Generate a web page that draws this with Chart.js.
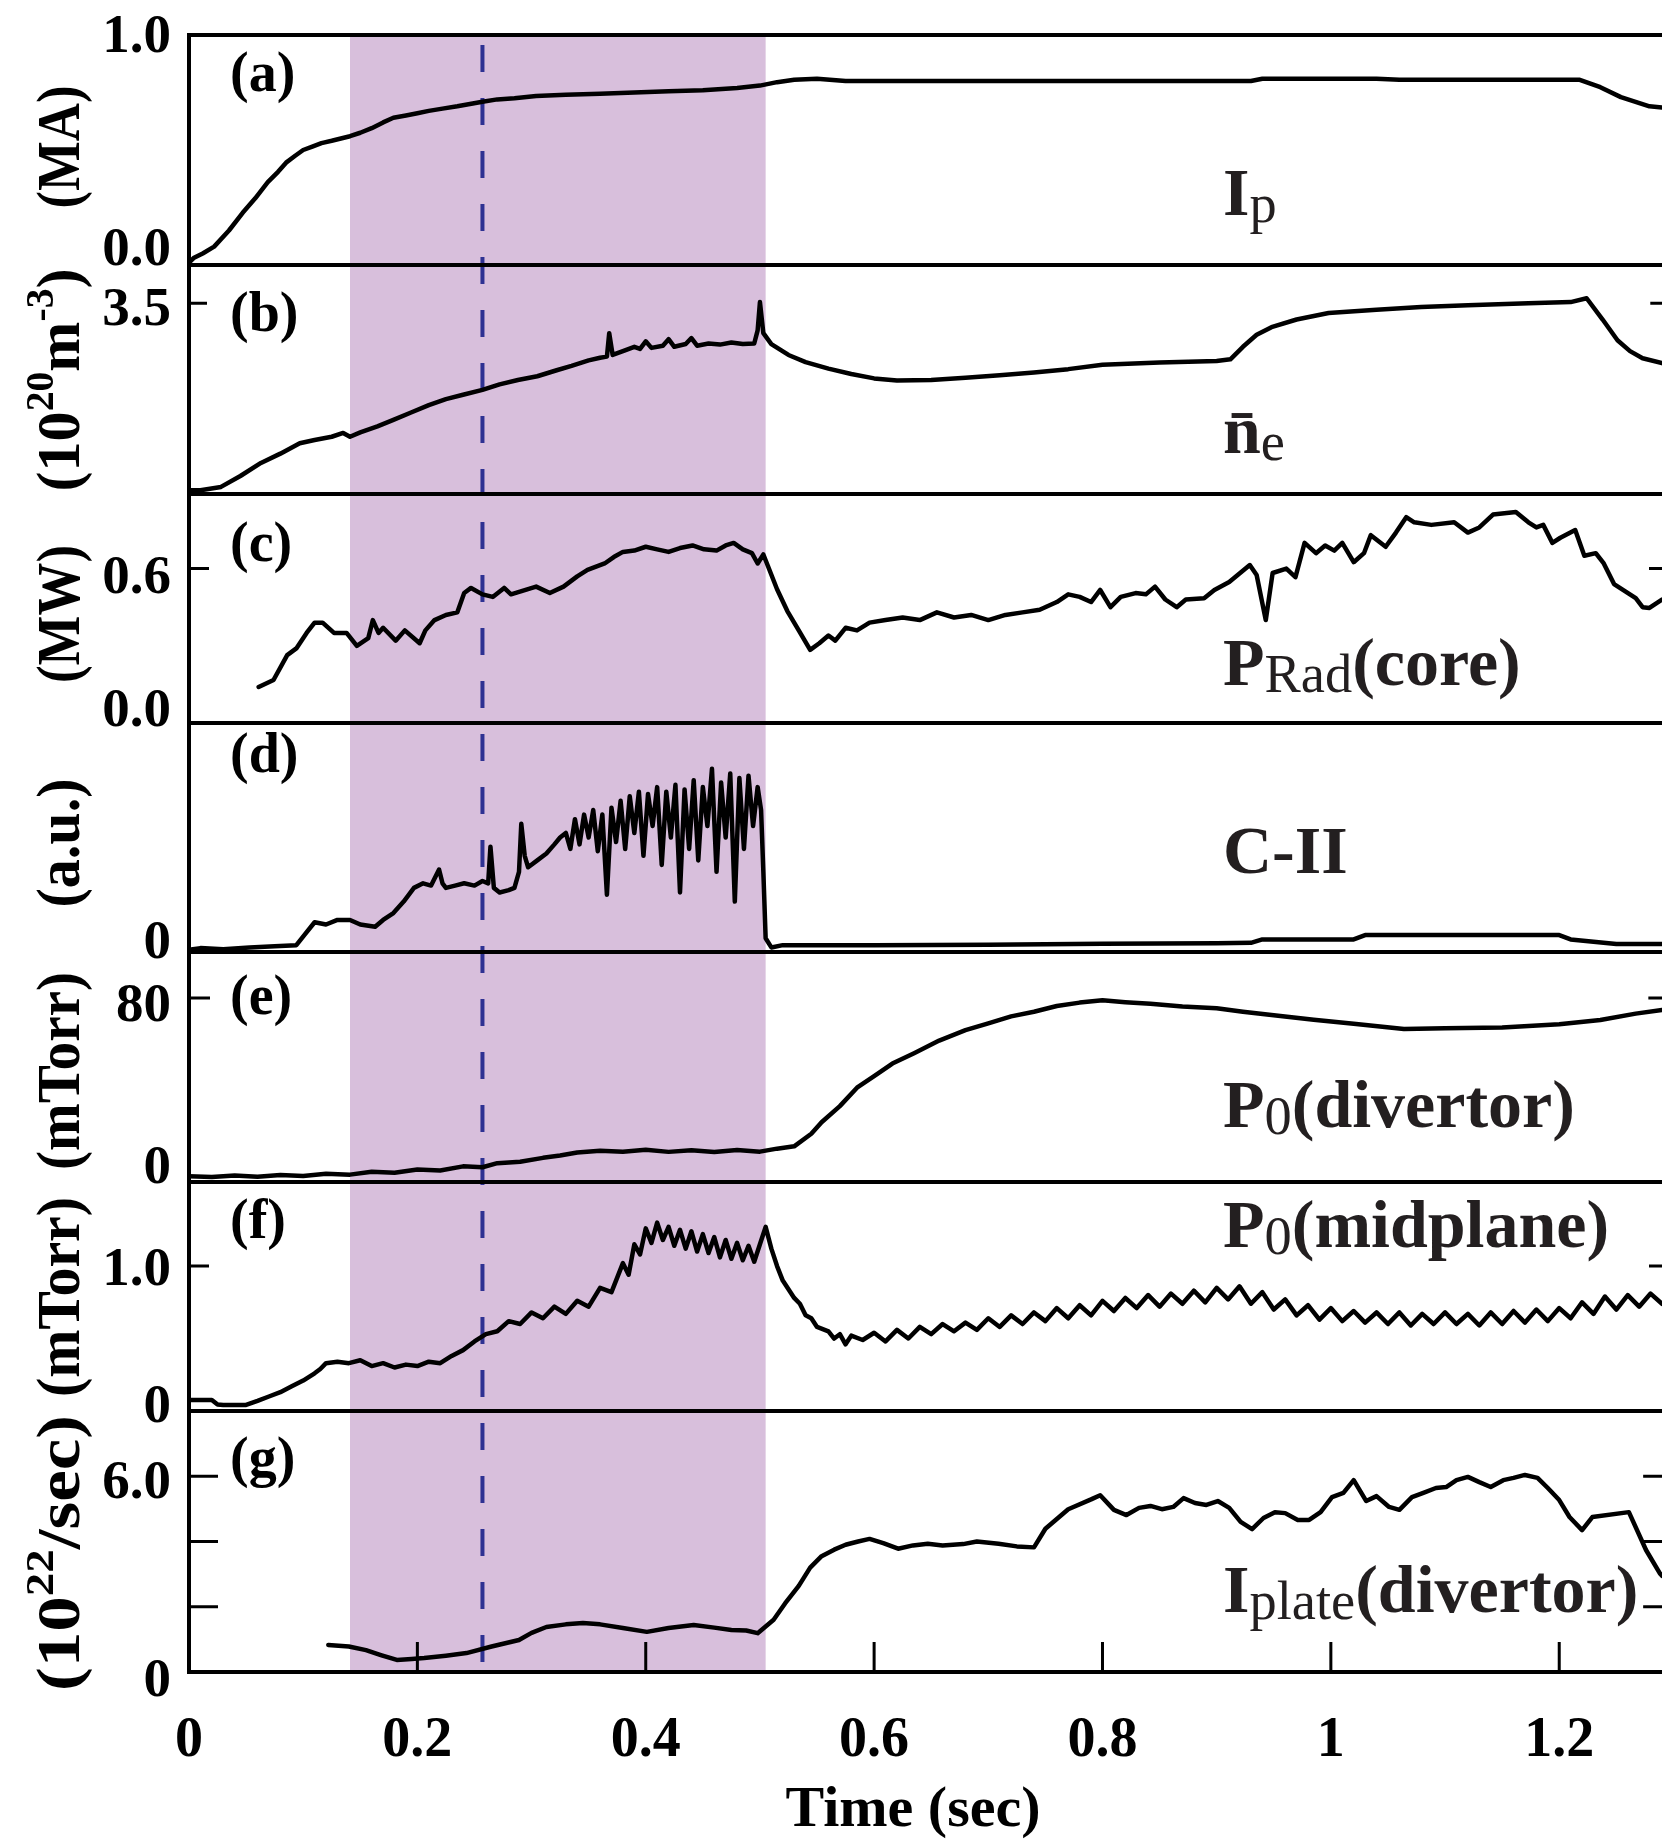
<!DOCTYPE html>
<html>
<head>
<meta charset="utf-8">
<script src="https://cdn.jsdelivr.net/npm/chart.js@4.4.1/dist/chart.umd.min.js"></script>
<style>
html, body { margin: 0; padding: 0; background: #fff; overflow: hidden; }
canvas { display: block; }
</style>
</head>
<body>
<canvas id="chart" width="1662" height="1842"></canvas>
<script>
// time axis
var xTicks = [0, 0.2, 0.4, 0.6, 0.8, 1, 1.2];
var xTickLabels = ["0", "0.2", "0.4", "0.6", "0.8", "1", "1.2"];
var xTitle = 'Time (sec)';
var shadeStart = 0.141, shadeEnd = 0.505, markTime = 0.257;

// (a) plasma current, MA
var ipTime = [0,0.004,0.012,0.022,0.035,0.047,0.058,0.069,0.078,0.085,
  0.093,0.1,0.108,0.116,0.125,0.133,0.141,0.15,0.16,0.17,
  0.179,0.19,0.2,0.21,0.222,0.235,0.246,0.257,0.27,0.285,
  0.304,0.33,0.36,0.39,0.42,0.45,0.48,0.5,0.515,0.53,
  0.55,0.575,0.6,0.7,0.8,0.93,0.94,1.04,1.06,1.218,
  1.236,1.254,1.279,1.29];
var ipValues = [0.01,0.03,0.05,0.08,0.15,0.227,0.29,0.36,0.405,0.445,
  0.475,0.5,0.515,0.53,0.54,0.55,0.56,0.575,0.595,0.62,
  0.64,0.65,0.66,0.67,0.68,0.69,0.70,0.71,0.72,0.725,
  0.735,0.74,0.745,0.75,0.755,0.76,0.77,0.78,0.795,0.805,
  0.81,0.80,0.80,0.80,0.80,0.80,0.81,0.81,0.805,0.805,
  0.773,0.73,0.69,0.685];
var ipTicks = [0, 1.0], ipTickLabels = ["0.0", "1.0"], ipMarks = [];

// (b) line averaged density, 10^20 m^-3
var neTime = [0,0.01,0.028,0.045,0.063,0.08,0.097,0.11,0.125,0.135,
  0.141,0.15,0.165,0.179,0.195,0.21,0.225,0.24,0.257,0.272,
  0.288,0.305,0.322,0.335,0.35,0.36,0.366,0.368,0.371,0.38,
  0.39,0.395,0.4,0.405,0.415,0.42,0.425,0.435,0.44,0.445,
  0.455,0.465,0.475,0.485,0.495,0.498,0.5,0.503,0.51,0.525,
  0.54,0.56,0.58,0.6,0.62,0.65,0.68,0.71,0.74,0.77,
  0.8,0.85,0.9,0.912,0.923,0.935,0.948,0.97,0.998,1.04,
  1.079,1.12,1.173,1.21,1.224,1.238,1.251,1.262,1.273,1.29];
var neValues = [0.07,0.07,0.13,0.33,0.57,0.74,0.93,0.99,1.05,1.12,
  1.05,1.13,1.24,1.36,1.5,1.63,1.74,1.82,1.91,2.01,
  2.09,2.16,2.27,2.35,2.45,2.5,2.52,2.95,2.55,2.62,
  2.7,2.66,2.8,2.68,2.72,2.84,2.7,2.75,2.86,2.72,
  2.76,2.74,2.78,2.75,2.76,3.0,3.52,2.95,2.75,2.55,
  2.42,2.3,2.2,2.12,2.08,2.09,2.13,2.18,2.23,2.29,
  2.37,2.41,2.44,2.47,2.7,2.92,3.06,3.2,3.32,3.38,
  3.43,3.46,3.5,3.52,3.59,3.2,2.82,2.62,2.49,2.4];
var neTicks = [3.5], neTickLabels = ["3.5"], neMarks = [3.5];

// (c) core radiated power, MW
var pradTime = [0.061,0.074,0.086,0.094,0.103,0.110,0.117,0.127,0.138,0.147,
  0.157,0.161,0.166,0.170,0.181,0.189,0.202,0.207,0.215,0.225,
  0.235,0.241,0.247,0.257,0.266,0.276,0.282,0.304,0.316,0.328,
  0.340,0.349,0.364,0.372,0.380,0.390,0.400,0.410,0.420,0.430,
  0.441,0.451,0.462,0.470,0.477,0.485,0.493,0.498,0.503,0.507,
  0.515,0.524,0.534,0.544,0.552,0.560,0.566,0.575,0.585,0.596,
  0.610,0.625,0.640,0.655,0.670,0.685,0.700,0.715,0.730,0.745,
  0.760,0.770,0.780,0.790,0.798,0.807,0.816,0.829,0.838,0.846,
  0.855,0.865,0.873,0.889,0.898,0.911,0.929,0.935,0.943,0.949,
  0.961,0.969,0.977,0.987,0.995,1.003,1.010,1.020,1.029,1.035,
  1.048,1.057,1.066,1.073,1.088,1.108,1.120,1.130,1.142,1.162,
  1.173,1.180,1.186,1.194,1.201,1.214,1.222,1.232,1.239,1.248,
  1.267,1.273,1.279,1.29];
var pradValues = [0.14,0.167,0.264,0.29,0.35,0.39,0.39,0.35,0.35,0.30,
  0.33,0.40,0.35,0.37,0.32,0.36,0.31,0.36,0.40,0.42,
  0.43,0.505,0.525,0.50,0.49,0.525,0.50,0.53,0.505,0.53,
  0.57,0.595,0.62,0.645,0.665,0.67,0.685,0.675,0.665,0.68,
  0.69,0.675,0.67,0.69,0.70,0.675,0.66,0.62,0.655,0.61,
  0.52,0.435,0.36,0.284,0.31,0.34,0.32,0.37,0.36,0.39,
  0.40,0.41,0.40,0.43,0.41,0.42,0.40,0.42,0.43,0.44,
  0.47,0.50,0.49,0.47,0.517,0.45,0.49,0.505,0.50,0.53,
  0.48,0.45,0.48,0.485,0.517,0.548,0.614,0.575,0.40,0.583,
  0.60,0.567,0.70,0.66,0.69,0.67,0.70,0.625,0.66,0.73,
  0.685,0.74,0.80,0.78,0.77,0.78,0.74,0.76,0.81,0.82,
  0.78,0.76,0.77,0.70,0.72,0.75,0.65,0.66,0.62,0.54,
  0.485,0.45,0.447,0.48];
var pradTicks = [0, 0.6], pradTickLabels = ["0.0", "0.6"], pradMarks = [0.6];

// (d) C-II emission, a.u.
var ciiTime = [0,0.01,0.03,0.053,0.075,0.094,0.102,0.11,0.12,0.13,
  0.141,0.15,0.163,0.17,0.179,0.188,0.197,0.205,0.212,0.219,
  0.222,0.225,0.233,0.241,0.25,0.257,0.262,0.264,0.267,0.272,
  0.28,0.285,0.289,0.291,0.294,0.297,0.305,0.313,0.32,0.325,
  0.33,0.334,0.338,0.342,0.346,0.35,0.354,0.358,0.362,0.366,
  0.37,0.374,0.378,0.382,0.386,0.39,0.394,0.398,0.402,0.406,
  0.41,0.414,0.418,0.422,0.426,0.43,0.434,0.438,0.442,0.446,
  0.45,0.454,0.458,0.462,0.466,0.47,0.474,0.478,0.482,0.486,
  0.49,0.494,0.498,0.501,0.503,0.505,0.51,0.52,0.6,0.7,
  0.8,0.9,0.93,0.94,1.02,1.03,1.2,1.21,1.25,1.29];
var ciiValues = [0.01,0.017,0.012,0.02,0.025,0.03,0.08,0.13,0.12,0.14,
  0.14,0.12,0.11,0.14,0.17,0.22,0.28,0.3,0.29,0.36,
  0.3,0.28,0.29,0.3,0.29,0.31,0.3,0.46,0.28,0.26,
  0.27,0.28,0.35,0.56,0.42,0.37,0.4,0.43,0.47,0.5,
  0.52,0.45,0.58,0.47,0.6,0.5,0.62,0.44,0.6,0.25,
  0.63,0.48,0.66,0.45,0.68,0.52,0.7,0.42,0.69,0.55,
  0.72,0.38,0.7,0.5,0.73,0.26,0.71,0.45,0.75,0.4,
  0.72,0.55,0.8,0.35,0.74,0.5,0.78,0.22,0.76,0.45,
  0.77,0.55,0.72,0.62,0.35,0.06,0.02,0.03,0.03,0.032,
  0.036,0.038,0.04,0.055,0.055,0.074,0.074,0.055,0.035,0.035];
var ciiTicks = [0], ciiTickLabels = ["0"], ciiMarks = [];

// (e) divertor neutral pressure, mTorr
var pdivTime = [0,0.02,0.04,0.06,0.08,0.1,0.12,0.141,0.16,0.18,
  0.2,0.22,0.24,0.257,0.27,0.29,0.31,0.325,0.34,0.36,
  0.38,0.4,0.42,0.44,0.46,0.48,0.5,0.515,0.53,0.545,
  0.554,0.57,0.585,0.6,0.616,0.635,0.657,0.68,0.7,0.72,
  0.74,0.76,0.78,0.8,0.82,0.842,0.87,0.9,0.923,0.95,
  0.985,1.02,1.064,1.1,1.15,1.2,1.236,1.267,1.29];
var pdivValues = [2.5,2.2,2.8,2.3,3,2.6,3.6,3.2,4.5,4,
  5.4,5,6.8,6.4,8.2,8.8,10.5,11.5,12.8,13.6,
  13.2,14,13.1,13.8,13,13.9,13.2,14.5,15.5,21,
  26,33,41,46,51.5,56,61.5,66,69,72,
  74,76.5,78,79,78.2,77.5,76.3,75.5,74,72.5,
  70.5,68.8,66.5,66.8,67.2,68.6,70.4,73.2,74.8];
var pdivTicks = [0, 80], pdivTickLabels = ["0", "80"], pdivMarks = [80];

// (f) midplane neutral pressure, mTorr
var pmidTime = [0,0.01,0.02,0.025,0.03,0.04,0.05,0.06,0.07,0.08,
  0.09,0.1,0.11,0.115,0.12,0.13,0.14,0.15,0.16,0.17,
  0.18,0.19,0.2,0.21,0.22,0.23,0.24,0.25,0.26,0.27,
  0.28,0.29,0.3,0.31,0.32,0.33,0.34,0.35,0.36,0.37,
  0.38,0.385,0.39,0.395,0.4,0.405,0.41,0.415,0.42,0.425,
  0.43,0.435,0.44,0.445,0.45,0.455,0.46,0.465,0.47,0.475,
  0.48,0.485,0.49,0.495,0.5,0.505,0.51,0.515,0.52,0.525,
  0.53,0.535,0.54,0.545,0.55,0.56,0.565,0.57,0.575,0.58,
  0.59,0.6,0.61,0.62,0.63,0.64,0.65,0.66,0.67,0.68,
  0.69,0.7,0.71,0.72,0.73,0.74,0.75,0.76,0.77,0.78,
  0.79,0.8,0.81,0.82,0.83,0.84,0.85,0.86,0.87,0.88,
  0.89,0.9,0.91,0.92,0.93,0.94,0.95,0.96,0.97,0.98,
  0.99,1,1.01,1.02,1.03,1.04,1.05,1.06,1.07,1.08,
  1.09,1.1,1.11,1.12,1.13,1.14,1.15,1.16,1.17,1.18,
  1.19,1.2,1.21,1.22,1.23,1.24,1.25,1.26,1.27,1.28,
  1.29];
var pmidValues = [0.076,0.076,0.076,0.045,0.041,0.041,0.042,0.07,0.1,0.13,
  0.17,0.21,0.26,0.29,0.33,0.34,0.33,0.35,0.31,0.33,
  0.3,0.32,0.31,0.34,0.33,0.38,0.42,0.48,0.53,0.55,
  0.62,0.6,0.68,0.64,0.72,0.67,0.76,0.72,0.85,0.82,
  1.02,0.94,1.15,1.08,1.26,1.16,1.3,1.18,1.27,1.14,
  1.25,1.12,1.24,1.1,1.22,1.09,1.2,1.06,1.18,1.05,
  1.16,1.04,1.14,1.03,1.15,1.27,1.12,1,0.9,0.84,
  0.78,0.74,0.66,0.64,0.58,0.55,0.5,0.53,0.46,0.52,
  0.49,0.54,0.48,0.56,0.5,0.58,0.53,0.6,0.55,0.61,
  0.56,0.64,0.58,0.66,0.6,0.68,0.62,0.71,0.64,0.73,
  0.66,0.76,0.69,0.78,0.71,0.8,0.72,0.81,0.74,0.83,
  0.75,0.85,0.77,0.86,0.74,0.82,0.7,0.77,0.66,0.73,
  0.63,0.71,0.62,0.69,0.61,0.68,0.6,0.68,0.59,0.67,
  0.6,0.68,0.6,0.67,0.59,0.68,0.6,0.69,0.61,0.7,
  0.62,0.71,0.64,0.75,0.67,0.79,0.7,0.8,0.72,0.81,
  0.74];
var pmidTicks = [0, 1.0], pmidTickLabels = ["0", "1.0"], pmidMarks = [1.0];

// (g) divertor plate ion flux, 10^22/sec
var iplateTime = [0.122,0.14,0.155,0.168,0.182,0.195,0.206,0.225,0.243,0.265,
  0.289,0.3,0.313,0.33,0.345,0.36,0.38,0.401,0.42,0.442,
  0.46,0.475,0.488,0.498,0.512,0.522,0.534,0.544,0.554,0.565,
  0.575,0.586,0.596,0.608,0.621,0.634,0.647,0.66,0.678,0.69,
  0.709,0.725,0.74,0.75,0.77,0.79,0.798,0.81,0.821,0.832,
  0.842,0.852,0.862,0.871,0.881,0.891,0.901,0.911,0.921,0.931,
  0.941,0.951,0.96,0.971,0.981,0.991,1.001,1.011,1.02,1.031,
  1.04,1.051,1.06,1.071,1.081,1.092,1.101,1.11,1.12,1.13,
  1.14,1.151,1.16,1.17,1.181,1.19,1.2,1.209,1.22,1.229,
  1.261,1.276,1.288,1.29];
var iplateValues = [0.83,0.78,0.67,0.52,0.37,0.4,0.43,0.5,0.58,0.78,
  0.98,1.2,1.38,1.46,1.5,1.46,1.35,1.23,1.35,1.44,
  1.36,1.29,1.27,1.19,1.6,2.1,2.64,3.2,3.55,3.75,
  3.9,4,4.08,3.95,3.78,3.88,3.93,3.88,3.92,4,
  3.93,3.85,3.82,4.39,4.99,5.29,5.42,4.97,4.81,5.03,
  5.09,4.99,5.06,5.33,5.18,5.12,5.24,5.03,4.6,4.38,
  4.72,4.9,4.87,4.66,4.66,4.9,5.36,5.49,5.88,5.24,
  5.39,5.06,4.97,5.36,5.49,5.64,5.67,5.88,5.98,5.82,
  5.67,5.88,5.95,6.04,5.95,5.64,5.27,4.75,4.35,4.75,
  4.9,3.74,3.03,2.95];
var iplateTicks = [0, 6], iplateTickLabels = ["0", "6.0"], iplateMarks = [2, 4, 6];

// ---- layout / styling ----
var serif = "'Liberation Serif', 'DejaVu Serif', serif";
var shadeColor = '#d8bfdc';
var markColor = '#2e3192';
var ink = '#000';
var nameInk = '#231f20';

var panels = [
  { id: 'ya', time: ipTime, values: ipValues, min: 0, max: 1.0, h: 230,
    ticks: ipTicks, labels: ipTickLabels, labelDy: [-18, -1], marks: ipMarks, markLen: 20,
    letter: '(a)', letterBase: 56, name: [{t: 'I'}, {t: 'p', sub: 1}], nameBase: 180,
    title: [{t: '(MA)'}], titleMid: 147, titleLen: 123 },
  { id: 'yb', time: neTime, values: neValues, min: 0, max: 4.2, h: 229,
    ticks: neTicks, labels: neTickLabels, labelDy: [4], marks: neMarks, markLen: 18,
    letter: '(b)', letterBase: 66, name: [{t: 'n\u0304'}, {t: 'e', sub: 1}], nameBase: 188,
    title: [{t: '(10'}, {t: '20', sup: 1}, {t: 'm'}, {t: '-3', sup: 1}, {t: ')'}], titleMid: 380, titleLen: 223 },
  { id: 'yc', time: pradTime, values: pradValues, min: 0, max: 0.89, h: 229,
    ticks: pradTicks, labels: pradTickLabels, labelDy: [-15, 6], marks: pradMarks, markLen: 20,
    letter: '(c)', letterBase: 67, name: [{t: 'P'}, {t: 'Rad', sub: 1}, {t: '(core)'}], nameBase: 191,
    title: [{t: '(MW)'}], titleMid: 614, titleLen: 138 },
  { id: 'yd', time: ciiTime, values: ciiValues, min: 0, max: 1.0, h: 229,
    ticks: ciiTicks, labels: ciiTickLabels, labelDy: [-12], marks: ciiMarks, markLen: 20,
    letter: '(d)', letterBase: 49, name: [{t: 'C-II'}], nameBase: 150,
    title: [{t: '(a.u.)'}], titleMid: 843, titleLen: 129 },
  { id: 'ye', time: pdivTime, values: pdivValues, min: 0, max: 100, h: 230,
    ticks: pdivTicks, labels: pdivTickLabels, labelDy: [-17, 5], marks: pdivMarks, markLen: 21,
    letter: '(e)', letterBase: 62, name: [{t: 'P'}, {t: '0', sub: 1}, {t: '(divertor)'}], nameBase: 175,
    title: [{t: '(mTorr)'}], titleMid: 1071, titleLen: 198 },
  { id: 'yf', time: pmidTime, values: pmidValues, min: 0, max: 1.58, h: 229,
    ticks: pmidTicks, labels: pmidTickLabels, labelDy: [-7, 1], marks: pmidMarks, markLen: 20,
    letter: '(f)', letterBase: 56, name: [{t: 'P'}, {t: '0', sub: 1}, {t: '(midplane)'}], nameBase: 65,
    title: [{t: '(mTorr)'}], titleMid: 1297, titleLen: 200 },
  { id: 'yg', time: iplateTime, values: iplateValues, min: 0, max: 8, h: 261,
    ticks: iplateTicks, labels: iplateTickLabels, labelDy: [6, 4], marks: iplateMarks, markLen: 29,
    letter: '(g)', letterBase: 65, name: [{t: 'I'}, {t: 'plate', sub: 1}, {t: '(divertor)'}], nameBase: 201,
    title: [{t: '(10'}, {t: '22', sup: 1}, {t: '/sec)'}], titleMid: 1553, titleLen: 276 }
];

function segFont(seg, size) {
  var s = size * (seg.sub ? 0.8 : seg.sup ? 0.66 : 1);
  return (seg.sub ? '500 ' : 'bold ') + s + 'px ' + serif;
}
function segShift(seg, size) {
  return seg.sub ? size * 0.1 : seg.sup ? -size * 0.42 : 0;
}
function richWidth(ctx, segs, size) {
  var w = 0;
  segs.forEach(function (seg) {
    ctx.font = segFont(seg, size);
    w += ctx.measureText(seg.t).width;
  });
  return w;
}
function drawRich(ctx, segs, x, y, size) {
  var cx = x;
  segs.forEach(function (seg) {
    ctx.font = segFont(seg, size);
    ctx.fillText(seg.t, cx, y + segShift(seg, size));
    cx += ctx.measureText(seg.t).width;
  });
}

var scales = {
  x: {
    type: 'linear', position: 'bottom', min: 0, max: 1.29,
    grid: { display: false }, border: { display: false },
    afterBuildTicks: function (s) { s.ticks = xTicks.map(function (v) { return { value: v }; }); },
    afterFit: function (s) { s.height = 170; },
    ticks: {
      padding: 28, color: ink, maxRotation: 0, autoSkip: false,
      font: { family: serif, size: 56, weight: 'bold' },
      callback: function (v) { return xTickLabels[xTicks.indexOf(v)]; }
    },
    title: { display: false }
  }
};
panels.forEach(function (p, i) {
  scales[p.id] = {
    type: 'linear', position: 'left', stack: 'panels', stackWeight: p.h, weight: panels.length - i,
    min: p.min, max: p.max,
    grid: { display: false }, border: { display: false }, ticks: { display: false },
    afterFit: function (s) { s.width = 189; }
  };
});

var decor = {
  id: 'decor',
  beforeDatasetsDraw: function (chart) {
    var ctx = chart.ctx, a = chart.chartArea, xs = chart.scales.x;
    var x0 = xs.getPixelForValue(shadeStart), x1 = xs.getPixelForValue(shadeEnd);
    ctx.save();
    ctx.fillStyle = shadeColor;
    ctx.fillRect(x0, a.top, x1 - x0, a.bottom - a.top);
    var xm = xs.getPixelForValue(markTime);
    ctx.strokeStyle = markColor;
    ctx.lineWidth = 4;
    ctx.setLineDash([27, 26]);
    ctx.lineDashOffset = 43;
    ctx.beginPath();
    ctx.moveTo(xm, a.top);
    ctx.lineTo(xm, a.bottom);
    ctx.stroke();
    ctx.restore();
  },
  afterDatasetsDraw: function (chart) {
    var ctx = chart.ctx, a = chart.chartArea, xs = chart.scales.x;
    ctx.save();
    ctx.strokeStyle = ink;
    ctx.lineWidth = 4;
    // frame: top, panel separators, left
    ctx.beginPath();
    ctx.moveTo(a.left - 2, a.top);
    ctx.lineTo(a.right + 2, a.top);
    panels.forEach(function (p) {
      var s = chart.scales[p.id];
      ctx.moveTo(a.left - 2, s.bottom);
      ctx.lineTo(a.right + 2, s.bottom);
    });
    ctx.moveTo(a.left, a.top - 2);
    ctx.lineTo(a.left, a.bottom + 2);
    ctx.stroke();

    // inward tick marks
    ctx.lineWidth = 3;
    ctx.beginPath();
    xTicks.forEach(function (v) {
      if (v === 0) return;
      var x = xs.getPixelForValue(v);
      ctx.moveTo(x, a.bottom);
      ctx.lineTo(x, a.bottom - 30);
    });
    panels.forEach(function (p) {
      var s = chart.scales[p.id];
      p.marks.forEach(function (v) {
        var y = s.getPixelForValue(v);
        ctx.moveTo(a.left, y);
        ctx.lineTo(a.left + p.markLen, y);
        ctx.moveTo(a.right, y);
        ctx.lineTo(a.right - p.markLen * 0.65, y);
      });
    });
    ctx.stroke();

    // y tick labels
    ctx.fillStyle = ink;
    ctx.textAlign = 'right';
    ctx.textBaseline = 'alphabetic';
    ctx.font = 'bold 55px ' + serif;
    panels.forEach(function (p) {
      var s = chart.scales[p.id];
      p.ticks.forEach(function (v, k) {
        ctx.fillText(p.labels[k], 171, s.getPixelForValue(v) + 18 + p.labelDy[k]);
      });
    });

    // x axis title
    ctx.textAlign = 'center';
    ctx.font = 'bold 58px ' + serif;
    ctx.fillText(xTitle, 913, 1826);

    // panel letters
    ctx.textAlign = 'left';
    ctx.font = 'bold 56px ' + serif;
    panels.forEach(function (p) {
      ctx.fillText(p.letter, 230, chart.scales[p.id].top + p.letterBase);
    });

    // signal names
    ctx.fillStyle = nameInk;
    panels.forEach(function (p) {
      drawRich(ctx, p.name, 1223, chart.scales[p.id].top + p.nameBase, 68);
    });

    // rotated unit titles
    ctx.fillStyle = ink;
    panels.forEach(function (p) {
      var w = richWidth(ctx, p.title, 62);
      ctx.save();
      ctx.translate(79, p.titleMid);
      ctx.rotate(-Math.PI / 2);
      ctx.scale(p.titleLen / w, 1);
      drawRich(ctx, p.title, -w / 2, 0, 62);
      ctx.restore();
    });
    ctx.restore();
  }
};

new Chart(document.getElementById('chart'), {
  type: 'line',
  data: {
    datasets: panels.map(function (p) {
      return {
        label: p.id,
        yAxisID: p.id,
        xAxisID: 'x',
        data: p.time.map(function (t, i) { return { x: t, y: p.values[i] }; }),
        borderColor: ink,
        borderWidth: 4.5,
        borderJoinStyle: 'round',
        borderCapStyle: 'round',
        pointRadius: 0,
        tension: 0,
        fill: false
      };
    })
  },
  options: {
    responsive: false,
    animation: false,
    devicePixelRatio: 1,
    layout: { padding: { top: 35, left: 0, right: 0, bottom: 0 } },
    plugins: { legend: { display: false }, tooltip: { enabled: false } },
    scales: scales
  },
  plugins: [decor]
});
</script>
</body>
</html>
